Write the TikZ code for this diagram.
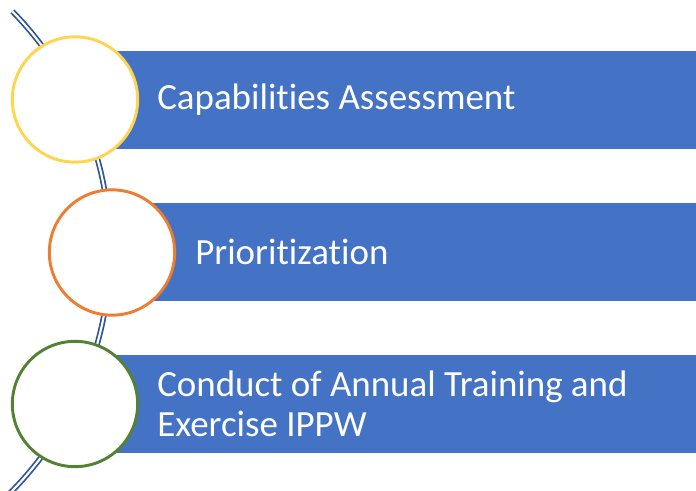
\documentclass[tikz,border=0pt]{standalone}
\usepackage{fontspec}
\setmainfont{Carlito}[Ligatures=NoCommon]
\usepackage{xcolor}
\definecolor{barblue}{HTML}{4472C4}
\definecolor{linkblue}{HTML}{2F5597}
\definecolor{ringyellow}{HTML}{FFD54F}
\definecolor{ringorange}{HTML}{ED7D31}
\definecolor{ringgreen}{HTML}{548235}
\tikzset{
  bar/.style={fill=barblue, draw=none, anchor=west, minimum width=450pt, minimum height=73.5pt, inner sep=0},
  ring/.style={circle, fill=white, line width=2.2pt, minimum size=94pt, inner sep=0},
  lab/.style={anchor=west, text=white, align=left, inner sep=0, font=\fontsize{27.7}{30}\selectfont}
}

\begin{document}
\begin{tikzpicture}[x=0.75pt, y=-0.75pt]
            \clip (0,0) rectangle (696,491);
            \useasboundingbox (0,0) rectangle (696,491);
            \coordinate (hub) at (-233,251);
            \draw [linkblue, line width=1.3pt, double=white, double distance=1.6pt] (hub) ++(-44.3:343) arc [start angle=-44.3, end angle=45, radius=343];
            \node [bar] (bar1) at (115,100) {};
            \node [bar] (bar2) at (150,252) {};
            \node [bar] (bar3) at (115,404) {};
            \node [ring, draw=ringyellow] (ring1) at (75,99.5) {};
            \node [ring, draw=ringorange] (ring2) at (112,252.5) {};
            \node [ring, draw=ringgreen] (ring3) at (75,404) {};
            \node [lab] (lab1) at (157,100) {Capabilities Assessment};
            \node [lab] (lab2) at (195,252) {Prioritization};
            \node [lab] (lab3) at (157,404) {Conduct of Annual Training and\\Exercise IPPW};
        \end{tikzpicture}
\end{document}
